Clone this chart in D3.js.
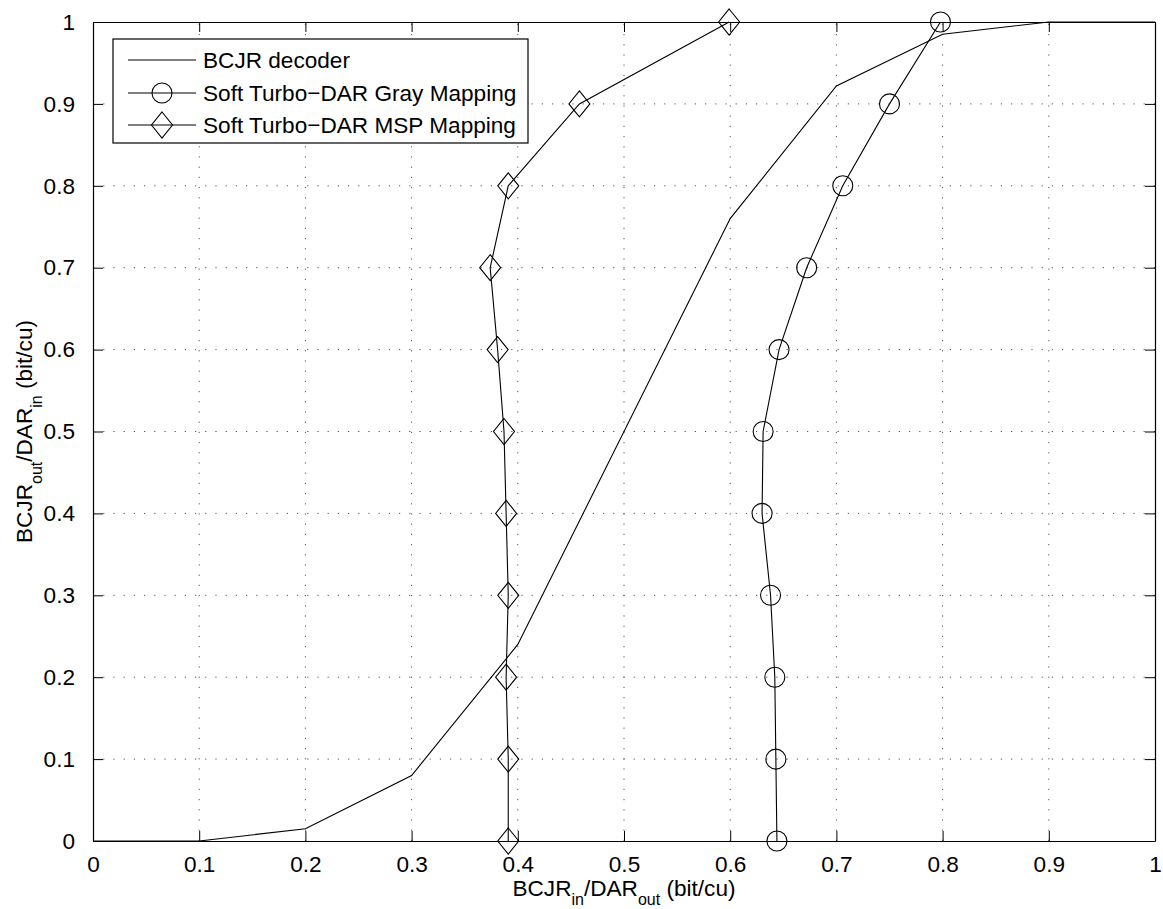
<!DOCTYPE html>
<html><head><meta charset="utf-8">
<script src="https://cdn.jsdelivr.net/npm/d3@7"></script>
<style>body{margin:0;background:#fff}svg{display:block;font-family:"Liberation Sans",Arial,sans-serif}</style>
</head><body>
<svg id="c" width="1163" height="909"></svg>
<script>
const xTicks = [0,0.1,0.2,0.3,0.4,0.5,0.6,0.7,0.8,0.9,1];
const yTicks = [0,0.1,0.2,0.3,0.4,0.5,0.6,0.7,0.8,0.9,1];
const xTickLabels = ["0","0.1","0.2","0.3","0.4","0.5","0.6","0.7","0.8","0.9","1"];
const yTickLabels = ["0","0.1","0.2","0.3","0.4","0.5","0.6","0.7","0.8","0.9","1"];
const bcjrX = [0,0.1,0.2,0.3,0.4,0.5,0.6,0.7,0.8,0.9,1];
const bcjrY = [0,0,0.015,0.08,0.24,0.5,0.76,0.922,0.985,1,1];
const grayY = [0,0.1,0.2,0.3,0.4,0.5,0.6,0.7,0.8,0.9,1];
const grayX = [0.644,0.643,0.642,0.638,0.630,0.631,0.646,0.672,0.706,0.750,0.798];
const mspY = [0,0.1,0.2,0.3,0.4,0.5,0.6,0.7,0.8,0.9,1];
const mspX = [0.391,0.391,0.389,0.391,0.389,0.387,0.381,0.374,0.391,0.458,0.599];
const legendLabels = ["BCJR decoder","Soft Turbo\u2212DAR Gray Mapping","Soft Turbo\u2212DAR MSP Mapping"];

const svg = d3.select("#c");
const L=93, R=1155, T=22, B=841;
const x = d3.scaleLinear().domain([0,1]).range([L,R]);
const y = d3.scaleLinear().domain([0,1]).range([B,T]);
const FS = 22.6;

// grid
const g = svg.append("g");
g.selectAll(".gx").data(xTicks.slice(1,-1)).enter().append("line")
 .attr("x1",d=>x(d)).attr("x2",d=>x(d)).attr("y1",B).attr("y2",T)
 .attr("stroke","#555").attr("stroke-width",1).attr("stroke-dasharray","1.2,9");
g.selectAll(".gy").data(yTicks.slice(1,-1)).enter().append("line")
 .attr("y1",d=>y(d)).attr("y2",d=>y(d)).attr("x1",L).attr("x2",R)
 .attr("stroke","#555").attr("stroke-width",1).attr("stroke-dasharray","1.2,9");

// axes with inner ticks
const ax = svg.append("g");
ax.append("g").attr("transform",`translate(0,${B})`)
  .call(d3.axisBottom(x).tickValues(xTicks).tickFormat((d,i)=>xTickLabels[i]).tickSizeInner(-10).tickSizeOuter(0).tickPadding(14.5));
ax.append("g").attr("transform",`translate(0,${T})`)
  .call(d3.axisTop(x).tickValues(xTicks).tickFormat("").tickSizeInner(-10).tickSizeOuter(0));
ax.append("g").attr("transform",`translate(${L},0)`)
  .call(d3.axisLeft(y).tickValues(yTicks).tickFormat((d,i)=>yTickLabels[i]).tickSizeInner(-10).tickSizeOuter(0).tickPadding(18));
ax.append("g").attr("transform",`translate(${R},0)`)
  .call(d3.axisRight(y).tickValues(yTicks).tickFormat("").tickSizeInner(-10).tickSizeOuter(0));
ax.selectAll(".domain").attr("stroke","#000").attr("stroke-width",1.2);
ax.selectAll(".tick line").attr("stroke","#000").attr("stroke-width",1);
ax.selectAll(".tick text").attr("font-size",FS).attr("fill","#000").attr("font-family","Liberation Sans, Arial, sans-serif");

// data lines
const line = d3.line().x(d=>x(d[0])).y(d=>y(d[1]));
const bcjr = bcjrX.map((v,i)=>[v,bcjrY[i]]);
const gray = grayX.map((v,i)=>[v,grayY[i]]);
const msp = mspX.map((v,i)=>[v,mspY[i]]);
svg.append("path").attr("d",line(bcjr)).attr("fill","none").attr("stroke","#000").attr("stroke-width",1.1);
svg.append("path").attr("d",line(gray)).attr("fill","none").attr("stroke","#000").attr("stroke-width",1.1);
svg.append("path").attr("d",line(msp)).attr("fill","none").attr("stroke","#000").attr("stroke-width",1.1);

const diamond = (cx,cy)=>`M${cx},${cy-13}L${cx+10.5},${cy}L${cx},${cy+13}L${cx-10.5},${cy}Z`;
svg.selectAll(".gm").data(gray).enter().append("circle")
 .attr("cx",d=>x(d[0])).attr("cy",d=>y(d[1])).attr("r",10)
 .attr("fill","none").attr("stroke","#000").attr("stroke-width",1.1);
svg.selectAll(".dm").data(msp).enter().append("path")
 .attr("d",d=>diamond(x(d[0]),y(d[1])))
 .attr("fill","none").attr("stroke","#000").attr("stroke-width",1.1);

// legend
const lg = svg.append("g");
lg.append("rect").attr("x",113).attr("y",39).attr("width",415).attr("height",104)
 .attr("fill","#fff").attr("stroke","#000").attr("stroke-width",1.2);
const rows=[60,93,125];
legendLabels.forEach((t,i)=>{
  lg.append("line").attr("x1",128).attr("x2",196).attr("y1",rows[i]).attr("y2",rows[i]).attr("stroke","#000").attr("stroke-width",1.1);
  if(i===1) lg.append("circle").attr("cx",162).attr("cy",rows[i]).attr("r",10).attr("fill","none").attr("stroke","#000").attr("stroke-width",1.1);
  if(i===2) lg.append("path").attr("d",diamond(162,rows[i])).attr("fill","none").attr("stroke","#000").attr("stroke-width",1.1);
  lg.append("text").attr("x",203).attr("y",rows[i]).attr("dy","0.35em").attr("font-size",FS).text(t);
});

// axis labels
const xl = svg.append("text").attr("x",(L+R)/2).attr("y",896).attr("text-anchor","middle").attr("font-size",FS);
xl.append("tspan").text("BCJR");
xl.append("tspan").attr("dy",9).attr("font-size",16).text("in");
xl.append("tspan").attr("dy",-9).text("/DAR");
xl.append("tspan").attr("dy",9).attr("font-size",16).text("out");
xl.append("tspan").attr("dy",-9).text(" (bit/cu)");

const yl = svg.append("text").attr("transform",`translate(32,${(T+B)/2}) rotate(-90)`).attr("text-anchor","middle").attr("font-size",FS);
yl.append("tspan").text("BCJR");
yl.append("tspan").attr("dy",10).attr("font-size",16).text("out");
yl.append("tspan").attr("dy",-10).text("/DAR");
yl.append("tspan").attr("dy",10).attr("font-size",16).text("in");
yl.append("tspan").attr("dy",-10).text(" (bit/cu)");
</script>
</body></html>
